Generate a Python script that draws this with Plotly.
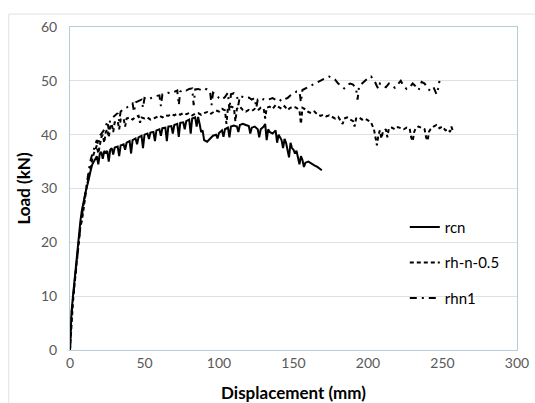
import plotly.graph_objects as go

# ---- data ----
rcn_x = [0, 0.5, 1, 2, 3, 4, 5, 6, 7, 8, 9, 10, 11, 12, 13, 14, 15, 16, 17, 18, 19, 20, 21, 22, 23, 24, 25, 26, 27, 28, 29, 30, 32, 33, 34, 36, 37, 38, 40, 41, 42, 44, 45, 46, 48, 49, 50, 52, 53, 54, 56, 57, 58, 60, 61, 62, 64, 65, 66, 68, 69, 70, 72, 73, 74, 76, 77, 78, 80, 81, 82, 84, 85, 86, 87, 88, 89, 90, 92, 94, 96, 98, 99, 100, 102, 103, 104, 106, 107, 108, 110, 112, 113, 114, 116, 118, 120, 121, 122, 124, 126, 127, 128, 130, 131, 132, 133, 134, 136, 138, 139, 140, 141, 142, 143, 144, 145, 146, 147, 148, 149, 150, 151, 152, 153, 154, 155, 156, 157, 158, 160, 162, 164, 166, 168, 169]
rcn_y = [0, 4, 7, 10, 13, 16, 19, 21.5, 24, 26, 27.5, 29, 30, 31, 32.5, 33.5, 34.5, 35, 35.5, 36, 34.5, 36.5, 36.8, 35.5, 37, 36.5, 37, 35, 37.2, 37.5, 36.3, 37.6, 37.8, 36, 38, 38.2, 37.2, 38.5, 38.8, 36.5, 39, 39.3, 38.2, 39.5, 39.8, 37.5, 40, 40.2, 39.2, 40.4, 40.5, 38.8, 40.8, 41, 39.8, 41.2, 41.3, 38.8, 41.5, 41.6, 40.2, 41.8, 42, 39.6, 42.2, 42.3, 41, 42.5, 42.8, 40.2, 43, 43.2, 41.5, 43.3, 42, 40.5, 40.8, 39, 38.7, 39.2, 39.8, 40, 39.3, 40.3, 40.8, 39.6, 41, 41.3, 39.5, 41.5, 41.7, 41.5, 40.5, 41.8, 42, 41.8, 41.6, 40.2, 41.3, 41.5, 41, 39.5, 41, 41.5, 42, 39, 41, 40.5, 40.2, 40.8, 38.5, 40, 39.5, 39, 37.5, 39.2, 38.5, 37.2, 35.8, 38.5, 37.5, 37.2, 36.5, 37, 35.5, 34.5, 36, 35.3, 34, 34.8, 35, 34.6, 34.3, 34, 33.6, 33.4]

rhn_x = [0, 0.5, 1, 2, 3, 4, 5, 6, 7, 8, 9, 10, 11, 12, 13, 14, 15, 16, 17, 18, 19, 20, 21, 22, 23, 24, 25, 26, 27, 28, 29, 30, 32, 33, 34, 36, 37, 38, 40, 42, 44, 46, 47, 48, 50, 52, 54, 56, 58, 60, 62, 64, 66, 68, 70, 72, 74, 76, 78, 80, 82, 84, 86, 88, 90, 92, 94, 96, 98, 100, 102, 104, 105, 106, 108, 110, 111, 112, 114, 116, 118, 120, 122, 124, 126, 128, 130, 131, 132, 134, 136, 138, 140, 142, 144, 146, 148, 150, 152, 154, 155, 156, 158, 160, 162, 164, 166, 168, 170, 172, 174, 176, 178, 180, 182, 183, 184, 186, 188, 190, 191, 192, 194, 196, 198, 200, 202, 204, 205, 206, 207, 208, 209, 210, 212, 213, 214, 216, 218, 220, 222, 224, 226, 228, 229, 230, 231, 232, 234, 236, 238, 239, 240, 241, 242, 244, 246, 248, 250, 252, 254, 255, 256, 257]
rhn_y = [0, 3, 6, 9, 12, 15, 18, 20.5, 23, 24, 26.5, 28, 30, 31.5, 33, 34.5, 35.5, 36.5, 37.5, 38, 36.5, 38.5, 39.5, 40, 38.5, 40.5, 41, 39.5, 41.5, 42, 40.5, 42.3, 42.5, 41, 42.8, 43, 41.5, 43, 43.2, 42.8, 43.3, 43.5, 42.2, 43.2, 43, 43.2, 42.8, 43, 43.3, 43.5, 43.2, 43.6, 43.5, 43.8, 43.6, 43.9, 43.7, 44, 43.8, 44, 43.6, 43.9, 44, 43.7, 44, 44.2, 43.8, 44.2, 44.5, 44.3, 44.8, 44.5, 42, 45, 45.2, 45, 42.5, 44.8, 45.2, 44.6, 44.3, 44.6, 44.4, 44.8, 44.5, 45, 44.8, 43, 45, 45.2, 44.8, 45.5, 45.2, 44.8, 45.3, 44.6, 45, 45.2, 45, 44.5, 42, 45, 44.7, 44.2, 44, 44.3, 43.8, 43.5, 43.7, 43.4, 43.6, 43.3, 43, 43.3, 42.5, 42, 43, 43.2, 42.8, 42.5, 41.5, 43, 43.2, 42.8, 43, 42.6, 42.3, 41, 39, 38, 40, 40.8, 39.3, 40.5, 41, 39.5, 41.2, 41.3, 41, 41.4, 41.2, 41, 41.3, 41.1, 39.5, 38.8, 40.5, 41.2, 41.5, 41.2, 41, 39.5, 38.9, 40.6, 41, 41.5, 41.8, 41.2, 41.5, 40.8, 41, 40.5, 41.5, 40.6]

rhn1_x = [0, 0.5, 1, 2, 3, 4, 5, 6, 7, 8, 9, 10, 11, 12, 13, 14, 15, 16, 17, 18, 19, 20, 22, 24, 25, 26, 27, 28, 30, 32, 33, 34, 36, 38, 40, 42, 43, 44, 46, 48, 49, 50, 52, 54, 56, 58, 60, 61, 62, 64, 66, 68, 70, 72, 73, 74, 76, 78, 80, 82, 83, 84, 86, 88, 90, 92, 94, 95, 96, 98, 100, 102, 104, 106, 107, 108, 110, 112, 113, 114, 116, 118, 120, 122, 124, 125, 126, 128, 130, 132, 134, 136, 138, 140, 142, 144, 146, 148, 150, 152, 154, 155, 156, 158, 160, 162, 164, 166, 168, 170, 172, 174, 176, 178, 180, 182, 184, 186, 188, 190, 192, 193, 194, 196, 198, 200, 202, 204, 206, 207, 208, 210, 212, 214, 216, 218, 220, 222, 224, 226, 228, 230, 232, 234, 236, 238, 240, 242, 244, 246, 247, 248]
rhn1_y = [0, 3.5, 6.5, 9.5, 12.5, 15.5, 18.5, 21, 23, 25, 27, 29, 31, 32.5, 34, 35.5, 36.5, 37.5, 38.5, 39, 38, 39.8, 40.5, 41.5, 42.5, 41, 42.8, 43, 43.5, 44, 42.5, 44.3, 44.8, 45, 45.5, 45.8, 44.2, 46, 46.2, 46.5, 45, 46.8, 46.5, 46.8, 47, 47.2, 47.3, 45.3, 47.5, 47.6, 47.8, 47.7, 48, 48.2, 45.5, 48, 48.4, 48.2, 48.5, 48.6, 45.5, 48.4, 48.5, 48.3, 48.6, 48.4, 48, 45.5, 47.8, 47.5, 46.8, 46.5, 47, 47.8, 44.5, 47.5, 47.7, 47.3, 45.5, 47.2, 47, 46.8, 46.9, 46.5, 46.8, 45, 46.5, 46.3, 46.6, 46.4, 46.6, 46.8, 46.5, 46.7, 46.2, 46.6, 46.8, 47.3, 47.6, 48, 48, 46, 48.3, 48.6, 48.9, 49.2, 49.4, 49.8, 50, 50.3, 50.6, 50.8, 50.5, 50.2, 49.5, 49, 48.6, 49.2, 49.5, 49.3, 48.5, 46.5, 49, 49.5, 50, 50.5, 50.8, 50.2, 49, 48.5, 49.5, 49.2, 48.8, 49.5, 49.2, 48.7, 49.3, 50, 49, 48.5, 48.8, 49.5, 49, 48.3, 49.8, 49.5, 48.5, 48.2, 48.8, 47.5, 48.5, 50]

series_names = ["rcn", "rh-n-0.5", "rhn1"]
x_ticks = [0, 50, 100, 150, 200, 250, 300]
y_ticks = [0, 10, 20, 30, 40, 50, 60]

FONT = "Lato, 'Open Sans', sans-serif"
grey = "#595959"

fig = go.Figure()
fig.add_trace(go.Scatter(x=rcn_x, y=rcn_y, mode="lines", name=series_names[0],
                         line=dict(color="black", width=2), legendgroup="a"))
fig.add_trace(go.Scatter(x=rhn_x, y=rhn_y, mode="lines", name=series_names[1],
                         line=dict(color="black", width=2, dash="4px,3px"), legendgroup="b"))
fig.add_trace(go.Scatter(x=rhn1_x, y=rhn1_y, mode="lines", name=series_names[2],
                         line=dict(color="black", width=2, dash="7px,5px,2px,5px"), legendgroup="c"))

fig.update_layout(
    width=535, height=403,
    margin=dict(l=70, r=18, t=27, b=53, autoexpand=False),
    paper_bgcolor="white", plot_bgcolor="white",
    font=dict(family=FONT, color=grey, size=14),
    showlegend=True,
    legend=dict(x=0.749, y=0.431, xanchor="left", yanchor="top",
                bgcolor="rgba(0,0,0,0)", font=dict(size=15, color="black"),
                tracegroupgap=13, itemwidth=30),
    xaxis=dict(range=[0, 300], tickvals=x_ticks, showgrid=False, zeroline=False, automargin=False,
               showline=True, linecolor="#b7cdd6", linewidth=1, mirror=True,
               ticks="", tickfont=dict(size=14, color=grey),
               title=dict(text="<b>Displacement (mm)</b>", font=dict(size=17, color="black", family=FONT), standoff=20)),
    yaxis=dict(range=[0, 60], tickvals=y_ticks, showgrid=True, gridcolor="#e0e0e0", gridwidth=1,
               zeroline=False, showline=True, linecolor="#b7cdd6", linewidth=1, mirror=True, automargin=False,
               ticks="", tickfont=dict(size=14, color=grey), ticklabelstandoff=9,
               title=dict(text="<b>Load (kN)</b>", font=dict(size=17, color="black", family=FONT), standoff=6)),
)

# outer chart-area border (top and left edges visible in the original)
fig.add_shape(type="line", xref="paper", yref="paper", x0=-0.137, x1=1.04, y0=1.04, y1=1.04,
              line=dict(color="#e0e0e0", width=1))
fig.add_shape(type="line", xref="paper", yref="paper", x0=-0.137, x1=-0.137, y0=-0.2, y1=1.04,
              line=dict(color="#e0e0e0", width=1))

# remove the default 8px body margin so the figure fills the window exactly
fig.write_html("out.html", config={"displayModeBar": False},
               post_script="document.body.style.margin='0';document.body.style.overflow='hidden';")
